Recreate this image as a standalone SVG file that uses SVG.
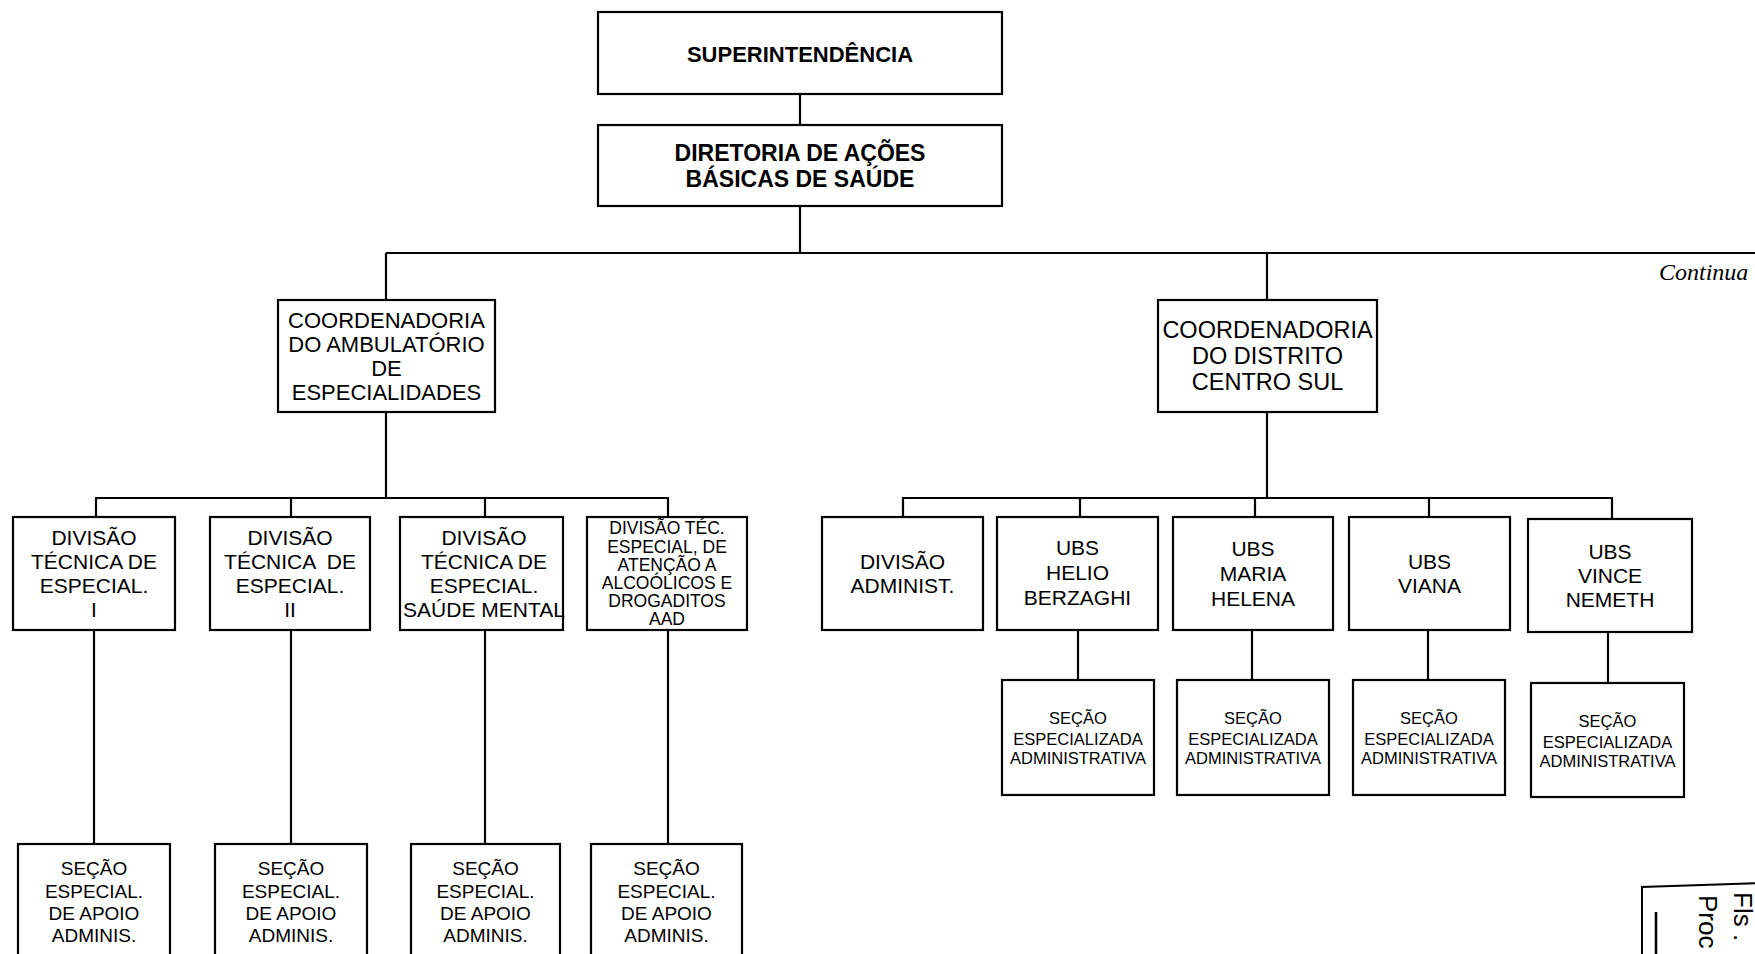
<svg xmlns="http://www.w3.org/2000/svg" width="1755" height="954" viewBox="0 0 1755 954">
<style>
rect.b{fill:#fff;stroke:#000;stroke-width:2.2}
#connectors line{stroke:#000;stroke-width:2.2}
text{font-family:"Liberation Sans",Arial,sans-serif;fill:#000;text-anchor:middle}
.bold{font-weight:bold}
.f21{font-size:21px}
.f22{font-size:22px}
.f17{font-size:17.5px}
.f16{font-size:16.5px}
.f19{font-size:19px}
</style>
<rect width="1755" height="954" fill="#fff"/>
<g id="connectors">
<line x1="800" y1="94" x2="800" y2="125"/>
<line x1="800" y1="206" x2="800" y2="253"/>
<line x1="386" y1="253" x2="1755" y2="253"/>
<line x1="386" y1="253" x2="386" y2="300"/>
<line x1="1267" y1="253" x2="1267" y2="300"/>
<line x1="386" y1="412" x2="386" y2="498"/>
<line x1="95" y1="498" x2="669" y2="498"/>
<line x1="96" y1="498" x2="96" y2="517"/>
<line x1="291" y1="498" x2="291" y2="517"/>
<line x1="485" y1="498" x2="485" y2="517"/>
<line x1="668" y1="498" x2="668" y2="517"/>
<line x1="94" y1="630" x2="94" y2="844"/>
<line x1="291" y1="630" x2="291" y2="844"/>
<line x1="485" y1="630" x2="485" y2="844"/>
<line x1="668" y1="630" x2="668" y2="844"/>
<line x1="1267" y1="412" x2="1267" y2="498"/>
<line x1="902" y1="498" x2="1613" y2="498"/>
<line x1="903" y1="498" x2="903" y2="517"/>
<line x1="1080" y1="498" x2="1080" y2="517"/>
<line x1="1255" y1="498" x2="1255" y2="517"/>
<line x1="1429" y1="498" x2="1429" y2="517"/>
<line x1="1612" y1="498" x2="1612" y2="519"/>
<line x1="1078" y1="630" x2="1078" y2="680"/>
<line x1="1252" y1="630" x2="1252" y2="680"/>
<line x1="1428" y1="630" x2="1428" y2="680"/>
<line x1="1608" y1="632" x2="1608" y2="683"/>
</g>
<g id="superintendencia">
<rect class="b" x="598" y="12" width="404" height="82"/>
<text class="bold" font-size="22" x="800" y="62">SUPERINTENDÊNCIA</text>
</g>
<g id="diretoria">
<rect class="b" x="598" y="125" width="404" height="81"/>
<text class="bold" font-size="23" x="800" y="161">DIRETORIA DE AÇÕES</text>
<text class="bold" font-size="23" x="800" y="187">BÁSICAS DE SAÚDE</text>
</g>
<g id="coord-ambulatorio">
<rect class="b" x="278" y="300" width="217" height="112"/>
<text class="f22" x="386.5" y="328">COORDENADORIA</text>
<text class="f22" x="386.5" y="352">DO AMBULATÓRIO</text>
<text class="f22" x="386.5" y="376">DE</text>
<text class="f22" x="386.5" y="400">ESPECIALIDADES</text>
</g>
<g id="coord-distrito">
<rect class="b" x="1158" y="300" width="219" height="112"/>
<text font-size="23.5" x="1267.5" y="338">COORDENADORIA</text>
<text font-size="23.5" x="1267.5" y="364">DO DISTRITO</text>
<text font-size="23.5" x="1267.5" y="390">CENTRO SUL</text>
</g>
<g id="continua">
<text x="1659" y="280" style="font-family:'Liberation Serif','Times New Roman',serif;font-style:italic;font-size:24px;text-anchor:start">Continua</text>
</g>
<g id="div-tec-1">
<rect class="b" x="13" y="517" width="162" height="113"/>
<text class="f21" x="94" y="545">DIVISÃO</text>
<text class="f21" x="94" y="569">TÉCNICA DE</text>
<text class="f21" x="94" y="593">ESPECIAL.</text>
<text class="f21" x="94" y="617">I</text>
</g>
<g id="div-tec-2">
<rect class="b" x="210" y="517" width="160" height="113"/>
<text class="f21" x="290" y="545">DIVISÃO</text>
<text class="f21" x="290" y="569" xml:space="preserve">TÉCNICA  DE</text>
<text class="f21" x="290" y="593">ESPECIAL.</text>
<text class="f21" x="290" y="617">II</text>
</g>
<g id="div-tec-saude-mental">
<rect class="b" x="400" y="517" width="163" height="113"/>
<text class="f21" x="484" y="545">DIVISÃO</text>
<text class="f21" x="484" y="569">TÉCNICA DE</text>
<text class="f21" x="484" y="593">ESPECIAL.</text>
<text class="f21" x="484" y="617">SAÚDE MENTAL</text>
</g>
<g id="div-tec-aad">
<rect class="b" x="587" y="517" width="160" height="113"/>
<text class="f17" x="667" y="534">DIVISÃO TÉC.</text>
<text class="f17" x="667" y="553">ESPECIAL, DE</text>
<text class="f17" x="667" y="571">ATENÇÃO A</text>
<text class="f17" x="667" y="589">ALCOÓLICOS E</text>
<text class="f17" x="667" y="607">DROGADITOS</text>
<text class="f17" x="667" y="625">AAD</text>
</g>
<g id="secao-apoio-1">
<rect class="b" x="18" y="844" width="152" height="120"/>
<text class="f19" x="94" y="875">SEÇÃO</text>
<text class="f19" x="94" y="898">ESPECIAL.</text>
<text class="f19" x="94" y="920">DE APOIO</text>
<text class="f19" x="94" y="942">ADMINIS.</text>
</g>
<g id="secao-apoio-2">
<rect class="b" x="215" y="844" width="152" height="120"/>
<text class="f19" x="291" y="875">SEÇÃO</text>
<text class="f19" x="291" y="898">ESPECIAL.</text>
<text class="f19" x="291" y="920">DE APOIO</text>
<text class="f19" x="291" y="942">ADMINIS.</text>
</g>
<g id="secao-apoio-3">
<rect class="b" x="411" y="844" width="149" height="120"/>
<text class="f19" x="485.5" y="875">SEÇÃO</text>
<text class="f19" x="485.5" y="898">ESPECIAL.</text>
<text class="f19" x="485.5" y="920">DE APOIO</text>
<text class="f19" x="485.5" y="942">ADMINIS.</text>
</g>
<g id="secao-apoio-4">
<rect class="b" x="591" y="844" width="151" height="120"/>
<text class="f19" x="666.5" y="875">SEÇÃO</text>
<text class="f19" x="666.5" y="898">ESPECIAL.</text>
<text class="f19" x="666.5" y="920">DE APOIO</text>
<text class="f19" x="666.5" y="942">ADMINIS.</text>
</g>
<g id="div-administ">
<rect class="b" x="822" y="517" width="161" height="113"/>
<text class="f21" x="902.5" y="569">DIVISÃO</text>
<text class="f21" x="902.5" y="593">ADMINIST.</text>
</g>
<g id="ubs-helio">
<rect class="b" x="997" y="517" width="161" height="113"/>
<text class="f21" x="1077.5" y="555">UBS</text>
<text class="f21" x="1077.5" y="580">HELIO</text>
<text class="f21" x="1077.5" y="605">BERZAGHI</text>
</g>
<g id="ubs-maria">
<rect class="b" x="1173" y="517" width="160" height="113"/>
<text class="f21" x="1253" y="556">UBS</text>
<text class="f21" x="1253" y="581">MARIA</text>
<text class="f21" x="1253" y="606">HELENA</text>
</g>
<g id="ubs-viana">
<rect class="b" x="1349" y="517" width="161" height="113"/>
<text class="f21" x="1429.5" y="569">UBS</text>
<text class="f21" x="1429.5" y="593">VIANA</text>
</g>
<g id="ubs-vince">
<rect class="b" x="1528" y="519" width="164" height="113"/>
<text class="f21" x="1610" y="559">UBS</text>
<text class="f21" x="1610" y="583">VINCE</text>
<text class="f21" x="1610" y="607">NEMETH</text>
</g>
<g id="secao-adm-helio">
<rect class="b" x="1002" y="680" width="152" height="115"/>
<text class="f16" x="1078" y="724">SEÇÃO</text>
<text class="f16" x="1078" y="745">ESPECIALIZADA</text>
<text class="f16" x="1078" y="764">ADMINISTRATIVA</text>
</g>
<g id="secao-adm-maria">
<rect class="b" x="1177" y="680" width="152" height="115"/>
<text class="f16" x="1253" y="724">SEÇÃO</text>
<text class="f16" x="1253" y="745">ESPECIALIZADA</text>
<text class="f16" x="1253" y="764">ADMINISTRATIVA</text>
</g>
<g id="secao-adm-viana">
<rect class="b" x="1353" y="680" width="152" height="115"/>
<text class="f16" x="1429" y="724">SEÇÃO</text>
<text class="f16" x="1429" y="745">ESPECIALIZADA</text>
<text class="f16" x="1429" y="764">ADMINISTRATIVA</text>
</g>
<g id="secao-adm-vince">
<rect class="b" x="1531" y="683" width="153" height="114"/>
<text class="f16" x="1607.5" y="727">SEÇÃO</text>
<text class="f16" x="1607.5" y="748">ESPECIALIZADA</text>
<text class="f16" x="1607.5" y="767">ADMINISTRATIVA</text>
</g>
<g id="stamp">
<path d="M1642 960 V887 L1760 883" fill="none" stroke="#000" stroke-width="2"/>
<line x1="1656" y1="912" x2="1656" y2="960" stroke="#000" stroke-width="2.5"/>
<text transform="translate(1699,895) rotate(90)" font-size="26" style="text-anchor:start">Proc</text>
<text transform="translate(1734,892) rotate(90)" font-size="26" style="text-anchor:start">Fls .</text>
</g>
</svg>
